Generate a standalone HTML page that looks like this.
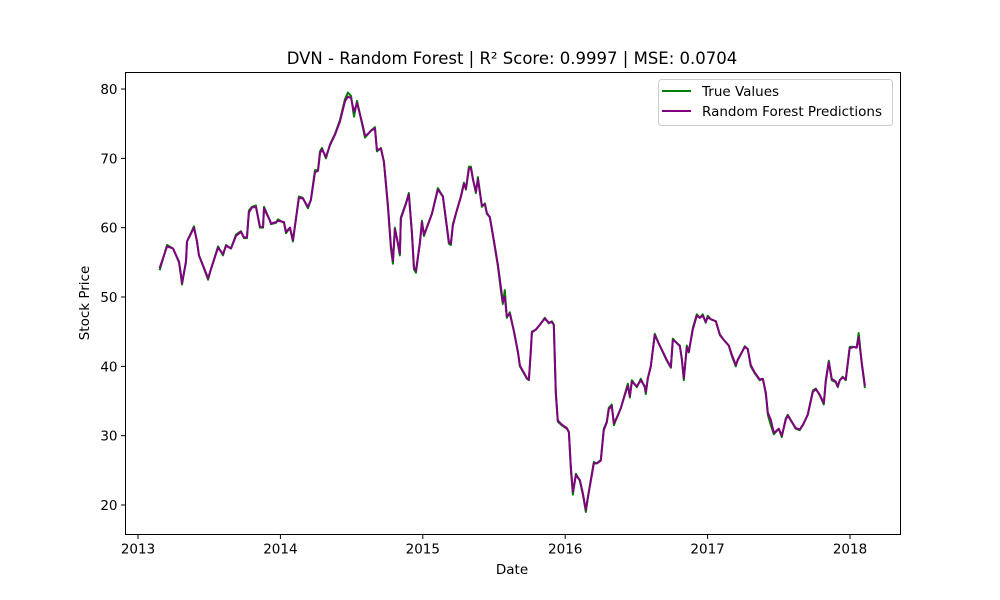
<!DOCTYPE html>
<html><head><meta charset="utf-8"><style>
html,body{margin:0;padding:0;background:#fff;}
svg{display:block;font-family:"DejaVu Sans","Liberation Sans",sans-serif;}
</style></head><body>
<svg id="chart" width="1000" height="600" viewBox="0 0 1000 600" xmlns="http://www.w3.org/2000/svg">
<rect x="0" y="0" width="1000" height="600" fill="#fff"/>
<text x="512" y="64" font-size="16.5" text-anchor="middle" fill="#000">DVN - Random Forest | R² Score: 0.9997 | MSE: 0.0704</text>
<g id="plot"></g>
<text x="512" y="574" font-size="13.5" text-anchor="middle">Date</text>
<text x="0" y="0" font-size="13.5" text-anchor="middle" transform="translate(89,303) rotate(-90)">Stock Price</text>
<rect x="125.5" y="72.5" width="775" height="462" fill="none" stroke="#000" stroke-width="1"/>
<g>
<rect x="658.5" y="79.5" width="234" height="46" rx="3" fill="#fff" fill-opacity="0.8" stroke="#ccc"/>
<line x1="662" y1="91" x2="691" y2="91" stroke="green" stroke-width="2"/>
<text x="702" y="96" font-size="13.5">True Values</text>
<line x1="662" y1="111" x2="691" y2="111" stroke="purple" stroke-width="2"/>
<text x="702" y="116" font-size="13.5">Random Forest Predictions</text>
</g>
</svg>
<script>
const dates=[2013.154,2013.204,2013.246,2013.288,2013.302,2013.309,2013.323,2013.337,2013.344,2013.393,2013.414,2013.428,2013.456,2013.492,2013.512,2013.562,2013.597,2013.618,2013.653,2013.688,2013.723,2013.744,2013.765,2013.779,2013.800,2013.828,2013.856,2013.878,2013.885,2013.927,2013.934,2013.969,2013.983,2014.025,2014.039,2014.067,2014.088,2014.130,2014.158,2014.193,2014.214,2014.243,2014.264,2014.278,2014.292,2014.320,2014.348,2014.383,2014.418,2014.453,2014.474,2014.496,2014.517,2014.538,2014.573,2014.594,2014.615,2014.636,2014.664,2014.678,2014.706,2014.727,2014.755,2014.776,2014.790,2014.804,2014.818,2014.839,2014.846,2014.881,2014.902,2014.924,2014.938,2014.952,2014.980,2014.994,2015.008,2015.036,2015.064,2015.106,2015.141,2015.169,2015.183,2015.197,2015.211,2015.239,2015.267,2015.289,2015.303,2015.324,2015.338,2015.352,2015.373,2015.387,2015.415,2015.436,2015.450,2015.471,2015.499,2015.527,2015.548,2015.562,2015.576,2015.590,2015.611,2015.640,2015.668,2015.682,2015.710,2015.731,2015.745,2015.759,2015.766,2015.794,2015.822,2015.857,2015.885,2015.906,2015.920,2015.934,2015.948,2015.976,2016.012,2016.026,2016.040,2016.054,2016.075,2016.103,2016.124,2016.145,2016.159,2016.187,2016.201,2016.222,2016.250,2016.271,2016.292,2016.306,2016.327,2016.342,2016.370,2016.391,2016.419,2016.440,2016.454,2016.468,2016.503,2016.531,2016.559,2016.566,2016.580,2016.601,2016.629,2016.657,2016.686,2016.714,2016.742,2016.756,2016.777,2016.805,2016.819,2016.833,2016.854,2016.868,2016.896,2016.924,2016.945,2016.966,2016.987,2017.001,2017.022,2017.058,2017.086,2017.114,2017.149,2017.170,2017.198,2017.212,2017.240,2017.261,2017.282,2017.303,2017.331,2017.366,2017.388,2017.409,2017.423,2017.444,2017.465,2017.500,2017.521,2017.549,2017.563,2017.591,2017.619,2017.647,2017.668,2017.703,2017.739,2017.760,2017.788,2017.816,2017.830,2017.851,2017.872,2017.900,2017.914,2017.928,2017.949,2017.970,2017.998,2018.026,2018.047,2018.061,2018.082,2018.104];
const trueValues=[54,57.5,57,55,53,51.8,53.5,55,58,60.2,58,56,54.5,52.5,54,57.3,56,57.5,57,59,59.5,58.5,58.5,62.5,63,63.2,60,60,63,61,60.5,60.7,61.2,60.7,59.2,60,58,64.5,64.3,62.8,64,68.3,68.3,71,71.5,70,72,73.5,75.5,78.5,79.5,79,76,78.3,75,73,73.5,74,74.5,71,71.5,69.5,63,57,54.8,60,58.5,56,61.5,63.5,65,59,54,53.5,58,61,58.8,60.5,62,65.7,64.5,60,57.7,57.5,60.5,62.5,64.5,66.5,65.5,68.8,68.8,67,65,67.3,63,63.5,62,61.5,58,54.5,51,49,51,47,47.8,45,42,40,39,38.2,38,42.5,45,45.3,46,47,46.2,46.5,46,36,32,31.5,31,30.5,25,21.5,24.5,23.5,21.5,19,21,24.5,26.2,26,26.5,31,32,34,34.5,31.5,33,34,36,37.5,35.5,38,37,38.2,37,36,38.3,40,44.7,43.3,42,40.8,39.8,44,43.5,43,41,38,43,42,45.5,47.5,47,47.5,46.3,47.3,46.8,46.5,44.5,43.8,43,41.5,40,41,42,42.9,42.5,40,39,38,38.2,36,33,31.5,30.2,31,29.8,32.5,33,32,31,30.8,31.5,33,36.5,36.8,35.8,34.5,38,40.8,38,37.7,37,38,38.5,38,42.8,42.8,42.7,44.8,40.5,37];
const predValues=[54.3,57.3,57,55.1,53.2,52,53.5,55.2,58,60,58.1,56,54.6,52.7,54,57.1,56.2,57.4,57,58.8,59.4,58.6,58.6,62.2,62.9,63,60.2,60.1,62.8,61,60.6,60.8,61,60.8,59.4,60,58.2,64.3,64.2,63,64,68,68.2,70.7,71.3,70.2,71.9,73.4,75.3,78.2,78.9,78.7,76.7,78,75.2,73.3,73.5,74,74.3,71.2,71.4,69.5,63.3,57.4,55.2,59.8,58.5,56.3,61.3,63.4,64.8,59.2,54.3,53.8,57.8,60.8,59,60.4,62,65.5,64.5,60.2,58,57.7,60.3,62.5,64.4,66.3,65.6,68.5,68.6,67,65.2,67,63.2,63.4,62.1,61.5,58.2,54.7,51.5,49.3,50,47.2,47.6,45.1,42.1,40.1,39.1,38.3,38.1,42.3,44.9,45.3,46,46.9,46.3,46.4,46,36.4,32.2,31.6,31.1,30.5,25.4,21.9,24.3,23.6,21.7,19.3,21.1,24.3,26,26,26.4,30.8,31.9,33.8,34.3,31.8,32.9,34,35.9,37.2,35.7,37.8,37.1,38,37.1,36.3,38.2,40,44.5,43.3,42.1,40.9,39.9,43.8,43.5,42.9,41.1,38.3,42.7,42.1,45.3,47.3,47,47.3,46.4,47.1,46.8,46.5,44.6,43.8,43,41.7,40.2,40.9,42,42.8,42.5,40.2,39.1,38.1,38.2,36.2,33.3,32.3,30.4,31,30,32.3,32.9,32,31.1,30.9,31.5,33,36.3,36.7,35.9,34.7,37.8,40.6,38.2,37.8,37.1,38,38.4,38.1,42.6,42.8,42.7,44.2,40.6,37.3];
const xTicks=[2013,2014,2015,2016,2017,2018];
const yTicks=[20,30,40,50,60,70,80];

const NS="http://www.w3.org/2000/svg";
const L=125.5,R=900.5,T=72.5,B=534.5;
function xs(v){return 138+(v-2013)*142.4;}
function ys(v){return 505-(v-20)*6.933;}
const plot=document.getElementById('plot');
function mk(tag,attrs,parent){const e=document.createElementNS(NS,tag);for(const k in attrs)e.setAttribute(k,attrs[k]);(parent||plot).appendChild(e);return e;}

xTicks.forEach(t=>{
  const x=xs(t);
  const tk=mk('line',{x1:x,y1:B,x2:x,y2:B+4.5,stroke:'#000','stroke-width':1});
  
  
  const lb=mk('text',{x:x,y:B+19,'font-size':13.5,'text-anchor':'middle'});
  lb.textContent=t;
  
  
});
yTicks.forEach(t=>{
  const y=ys(t);
  const tk=mk('line',{x1:L-4.5,y1:y,x2:L,y2:y,stroke:'#000','stroke-width':1});
  
  
  const lb=mk('text',{x:L-8,y:y+5,'font-size':13.5,'text-anchor':'end'});
  lb.textContent=t;
  
  
});
function series(vals,color,name){
  const d=vals.map((v,i)=>(i?'L':'M')+xs(dates[i]).toFixed(2)+','+ys(v).toFixed(2)).join(' ');
  const p=mk('path',{d:d,fill:'none',stroke:color,'stroke-width':2,'stroke-linejoin':'round','stroke-linecap':'square'});
  
  
}
series(trueValues,'green','true-values-line');
series(predValues,'purple','predictions-line');
</script>
</body></html>
